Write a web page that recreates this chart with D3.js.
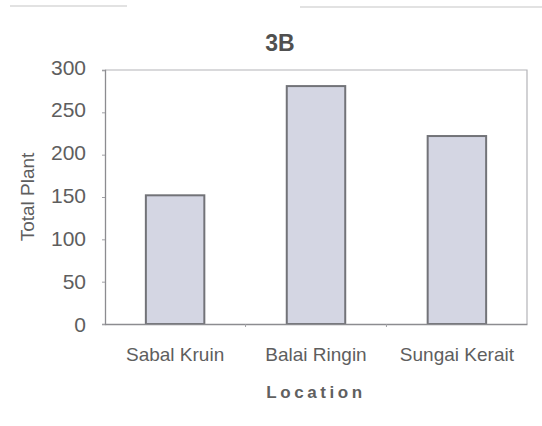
<!DOCTYPE html>
<html>
<head>
<meta charset="utf-8">
<script src="https://cdn.jsdelivr.net/npm/d3@7"></script>
<style>
    body { margin: 0; background: #ffffff; }
    svg { display: block; font-family: "Liberation Sans", Arial, sans-serif; }
</style>
</head>
<body>
<svg id="chart"></svg>
<script>
// data
var locations = ["Sabal Kruin", "Balai Ringin", "Sungai Kerait"];
var totalPlant = [152, 281, 222];
var yTicks = [0, 50, 100, 150, 200, 250, 300];
var chartTitle = "3B";
var xTitle = "Location";
var yTitle = "Total Plant";

function SetupPlantChart() {
    // set the dimensions and margins of the graph
    var margin = { top: 70, right: 15, bottom: 102, left: 105 },
        width = 542 - margin.left - margin.right,
        height = 426 - margin.top - margin.bottom;

    var svg = d3.select("#chart")
        .attr("width", 542)
        .attr("height", 426);

    // faint scan lines along the top edge
    svg.append("line").attr("x1", 10).attr("x2", 127).attr("y1", 6).attr("y2", 6)
        .attr("stroke", "#d8d8d8").attr("stroke-width", 1.5);
    svg.append("line").attr("x1", 300).attr("x2", 542).attr("y1", 7).attr("y2", 7)
        .attr("stroke", "#d8d8d8").attr("stroke-width", 1.5);

    var g = svg.append("g")
        .attr("transform", "translate(" + margin.left + "," + margin.top + ")");

    // set the ranges
    var x = d3.scaleBand().domain(locations).range([0, width]).paddingInner(0.585).paddingOuter(0.29);
    var y = d3.scaleLinear().domain([0, 300]).range([height, 0]);

    // plot frame (top and right, lighter)
    g.append("path")
        .attr("d", "M0,0H" + width + "V" + height)
        .attr("fill", "none")
        .attr("stroke", "#b4b4b8")
        .attr("stroke-width", 1.2);

    // bars
    g.selectAll(".bar")
        .data(locations)
        .enter().append("rect")
        .attr("class", "bar")
        .attr("x", function (d) { return x(d); })
        .attr("width", x.bandwidth())
        .attr("y", function (d, i) { return y(totalPlant[i]); })
        .attr("height", function (d, i) { return height - y(totalPlant[i]); })
        .attr("fill", "#d4d6e3")
        .attr("stroke", "#727378")
        .attr("stroke-width", 2);

    // Y axis
    var yAxis = g.append("g")
        .call(d3.axisLeft(y).tickValues(yTicks).tickSize(3).tickPadding(16));
    yAxis.select(".domain").attr("stroke", "#8c8c90").attr("stroke-width", 1.3);
    yAxis.selectAll(".tick line").attr("stroke", "#a0a0a4");
    // labels sit a little above their ticks, more so higher up
    yAxis.selectAll(".tick text")
        .attr("font-size", 21)
        .attr("fill", "#5e5e5e")
        .attr("y", function (d) { return -d / 100; })
        .attr("dy", "0.34em")
        .attr("font-family", "'Liberation Sans', Arial, sans-serif");

    // X axis
    var xAxis = g.append("g")
        .attr("transform", "translate(0," + height + ")")
        .call(d3.axisBottom(x).tickSize(0).tickPadding(24));
    xAxis.select(".domain").attr("stroke", "#8c8c90").attr("stroke-width", 1.6);
    xAxis.selectAll(".tick text")
        .attr("font-size", 19)
        .attr("fill", "#5e5e5e")
        .attr("font-family", "'Liberation Sans', Arial, sans-serif");

    // small separators between categories
    var step = x.step();
    xAxis.selectAll(".sep")
        .data(locations.slice(1))
        .enter().append("line")
        .attr("class", "sep")
        .attr("x1", function (d) { return x(d) - (step - x.bandwidth()) / 2; })
        .attr("x2", function (d) { return x(d) - (step - x.bandwidth()) / 2; })
        .attr("y1", 0).attr("y2", 3)
        .attr("stroke", "#a0a0a4");

    // title
    svg.append("text")
        .attr("x", 280).attr("y", 51)
        .attr("text-anchor", "middle")
        .attr("font-size", 23)
        .attr("font-weight", "bold")
        .attr("fill", "#505050")
        .text(chartTitle);

    // x axis title
    svg.append("text")
        .attr("x", 316).attr("y", 398)
        .attr("text-anchor", "middle")
        .attr("font-size", 17)
        .attr("font-weight", "bold")
        .attr("letter-spacing", "3.6px")
        .attr("fill", "#606060")
        .text(xTitle);

    // y axis title
    svg.append("text")
        .attr("transform", "translate(34," + (margin.top + height / 2) + ") rotate(-90)")
        .attr("text-anchor", "middle")
        .attr("font-size", 19)
        .attr("fill", "#5e5e5e")
        .text(yTitle);
}

SetupPlantChart();
</script>
</body>
</html>
